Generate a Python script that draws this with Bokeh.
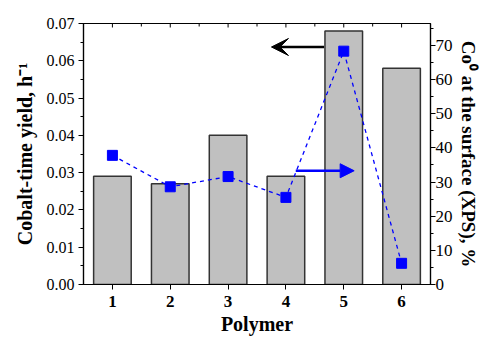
from bokeh.plotting import figure
from bokeh.models import (LinearAxis, Range1d, FixedTicker, Arrow, NormalHead,
                          VeeHead, ColumnDataSource, NumeralTickFormatter)
from bokeh.embed import file_html
from bokeh.resources import INLINE

# ---- data ----
polymers = [1, 2, 3, 4, 5, 6]
polymer_labels = ["1", "2", "3", "4", "5", "6"]
cobalt_time_yield = [0.029, 0.027, 0.040, 0.029, 0.068, 0.058]
co0_surface_pct = [37.8, 28.6, 31.6, 25.5, 68.3, 6.2]

left_ticks = [0.0, 0.01, 0.02, 0.03, 0.04, 0.05, 0.06, 0.07]
left_minor = [0.005 * i for i in range(15)]
right_ticks = [0, 10, 20, 30, 40, 50, 60, 70]
right_minor = [5 * i for i in range(16)]
top_minor = [0.5 + i for i in range(7)]

# arrow annotation positions (data units)
black_arrow = dict(x_start=4.66, x_end=3.75, y=0.0637)      # left axis
blue_arrow = dict(x_start=4.17, x_end=5.18, y=33.3)         # right axis

FONT = "Liberation Serif"
Y_MAX = 0.07
PCT_MAX = 76.4

p = figure(width=481, height=337, x_range=Range1d(0.5, 6.5), y_range=Range1d(0, Y_MAX),
           output_backend="svg", toolbar_location=None,
           min_border_left=83, min_border_right=49, min_border_top=23, min_border_bottom=52)
p.extra_y_ranges = {"pct": Range1d(0, PCT_MAX)}
p.xgrid.visible = False
p.ygrid.visible = False
p.outline_line_color = "black"
p.outline_line_width = 1.2

src = ColumnDataSource(dict(x=polymers, y=cobalt_time_yield, pct=co0_surface_pct))

p.vbar(x="x", top="y", width=0.65, source=src, fill_color="#c0c0c0",
       line_color="#333333", line_width=1.5)

p.line(x="x", y="pct", source=src, y_range_name="pct", line_color="blue",
       line_dash="4 4", line_width=1.3)
p.scatter(x="x", y="pct", source=src, y_range_name="pct", marker="square",
          size=10, fill_color="blue", line_color="blue")

# top frame ticks (pointing inward)
tick_major_len = Y_MAX * 4 / 262
tick_minor_len = Y_MAX * 3 / 262
p.segment(x0=polymers, x1=polymers, y0=[Y_MAX] * len(polymers),
          y1=[Y_MAX - tick_major_len] * len(polymers), line_color="black", line_width=1)
p.segment(x0=top_minor, x1=top_minor, y0=[Y_MAX] * len(top_minor),
          y1=[Y_MAX - tick_minor_len] * len(top_minor), line_color="black", line_width=1)

# arrows
p.add_layout(Arrow(end=VeeHead(size=17, fill_color="black", line_color="black"),
                   x_start=black_arrow["x_start"], y_start=black_arrow["y"],
                   x_end=black_arrow["x_end"], y_end=black_arrow["y"],
                   line_color="black", line_width=2.5))
p.add_layout(Arrow(end=NormalHead(size=14, fill_color="blue", line_color="blue"),
                   x_start=blue_arrow["x_start"], y_start=blue_arrow["y"],
                   x_end=blue_arrow["x_end"], y_end=blue_arrow["y"],
                   line_color="blue", line_width=2.5, y_range_name="pct"))

# bottom axis
xa = p.xaxis[0]
xa.ticker = FixedTicker(ticks=polymers)
xa.major_label_overrides = {k: v for k, v in zip(polymers, polymer_labels)}
xa.axis_label = "Polymer"
xa.major_tick_out = 5
xa.major_tick_in = 0
xa.minor_tick_out = 0
xa.minor_tick_in = 0
xa.major_label_text_font = FONT
xa.major_label_text_font_style = "bold"
xa.major_label_text_font_size = "17px"
xa.major_label_text_color = "black"
xa.major_label_standoff = 6
xa.axis_label_text_font = FONT
xa.axis_label_text_font_style = "bold"
xa.axis_label_text_font_size = "20px"
xa.axis_label_text_color = "black"
xa.axis_label_standoff = 3
xa.axis_line_width = 1.2
xa.axis_line_color = "black"
xa.major_tick_line_color = "black"

# left axis
ya = p.yaxis[0]
ya.ticker = FixedTicker(ticks=left_ticks, minor_ticks=left_minor)
ya.formatter = NumeralTickFormatter(format="0.00")
ya.axis_label = "Cobalt-time yield, h\u207b\u00b9"
ya.major_tick_out = 5
ya.major_tick_in = 0
ya.minor_tick_out = 3
ya.minor_tick_in = 0
ya.major_label_text_font = FONT
ya.major_label_text_font_size = "16px"
ya.major_label_text_color = "black"
ya.major_label_standoff = 4
ya.axis_label_text_font = FONT
ya.axis_label_text_font_style = "bold"
ya.axis_label_text_font_size = "20px"
ya.axis_label_text_color = "black"
ya.axis_label_standoff = 8
ya.axis_line_width = 1.2
ya.axis_line_color = "black"
ya.major_tick_line_color = "black"
ya.minor_tick_line_color = "black"

# right axis
ra = LinearAxis(y_range_name="pct", ticker=FixedTicker(ticks=right_ticks, minor_ticks=right_minor),
                axis_label="Co\u2070 at the surface (XPS), %")
ra.major_tick_out = 5
ra.major_tick_in = 0
ra.minor_tick_out = 3
ra.minor_tick_in = 0
ra.major_label_text_font = FONT
ra.major_label_text_font_size = "17px"
ra.major_label_text_color = "black"
ra.major_label_standoff = 0
ra.axis_label_text_font = FONT
ra.axis_label_text_font_style = "bold"
ra.axis_label_text_font_size = "19px"
ra.axis_label_text_color = "black"
ra.axis_label_standoff = 2
ra.axis_line_width = 1.2
ra.axis_line_color = "black"
ra.major_tick_line_color = "black"
ra.minor_tick_line_color = "black"
p.add_layout(ra, "right")

open("out.html", "w").write(file_html(p, INLINE))
